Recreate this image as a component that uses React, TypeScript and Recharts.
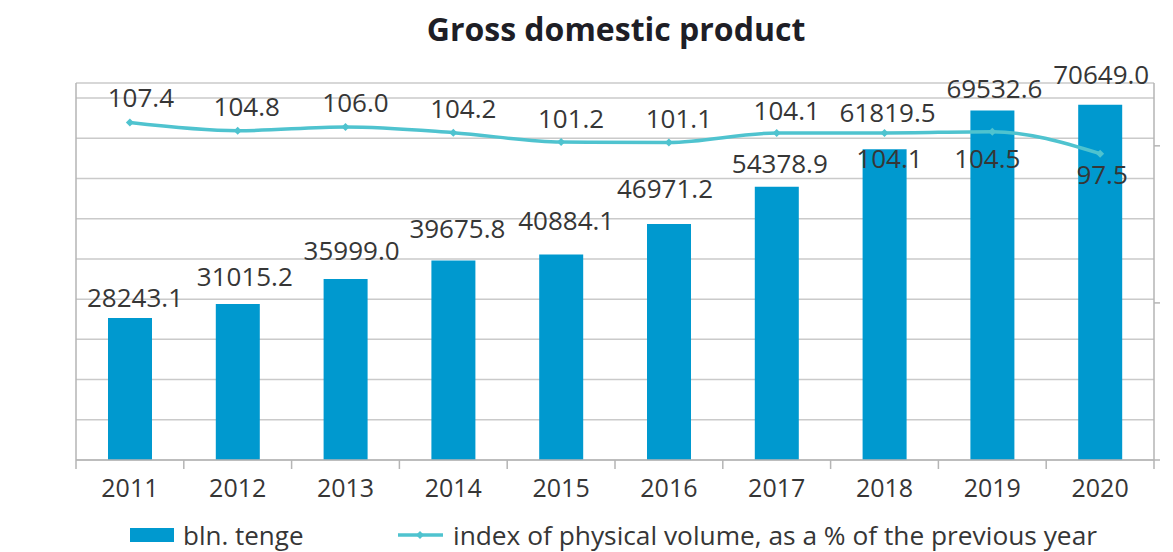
import React from 'react';
import { ComposedChart, Bar, Line, XAxis, YAxis, CartesianGrid, LabelList } from 'recharts';

const years = ['2011', '2012', '2013', '2014', '2015', '2016', '2017', '2018', '2019', '2020'];
const gdpBlnTenge = [28243.1, 31015.2, 35999.0, 39675.8, 40884.1, 46971.2, 54378.9, 61819.5, 69532.6, 70649.0];
const volumeIndex = [107.4, 104.8, 106.0, 104.2, 101.2, 101.1, 104.1, 104.1, 104.5, 97.5];
const gdpTicks = [0, 8000, 16000, 24000, 32000, 40000, 48000, 56000, 64000, 72000];
const indexTicks = [0, 50, 100];

// label nudges (layout only), as placed in the original
const barLabelDx = [5, 7, 6, 4, 5, -4, 3, 3, 2, 1];
const barLabelDy = [-21, -28, -29, -33, -34, -36, -24, -37, -22, -31];
const lineLabelDx = [11, 9, 10, 10, 10, 10, 10, 5, -5, 2];
const lineLabelDy = [-26, -25, -25, -25, -24, -24, -23, 25, 26, 20];

const rows = years.map((year, i) => ({ year, gdp: gdpBlnTenge[i], idx: volumeIndex[i] }));

const BAR_COLOR = '#0099cf';
const LINE_COLOR = '#4fc3cf';
const GRID = '#cacaca';
const AXIS = '#b5b5b5';
const TEXT = '#363636';
const FONT = "'Open Sans', sans-serif";

const PLOT_LEFT = 76;
const PLOT_RIGHT = 1154;
const BAND = (PLOT_RIGHT - PLOT_LEFT) / years.length;

const getIndex = (props: any, arr: number[]) => {
  if (typeof props.index === 'number') return props.index;
  return arr.indexOf(Number(props.value));
};

const BarLabel = (props: any) => {
  const vb = props.viewBox || props;
  const x = Number(vb.x ?? props.x);
  const y = Number(vb.y ?? props.y);
  const w = Number(vb.width ?? props.width ?? 0);
  const i = getIndex(props, gdpBlnTenge);
  return (
    <text
      x={x + w / 2 + (barLabelDx[i] || 0)}
      y={y + (barLabelDy[i] || -20)}
      textAnchor="middle"
      dominantBaseline="central"
      fontFamily={FONT}
      fontSize={26}
      fill={TEXT}
    >
      {Number(props.value).toFixed(1)}
    </text>
  );
};

const LineLabel = (props: any) => {
  const vb = props.viewBox || props;
  const x = Number(vb.x ?? props.x);
  const y = Number(vb.y ?? props.y);
  const i = getIndex(props, volumeIndex);
  return (
    <text
      x={x + (lineLabelDx[i] || 0)}
      y={y + (lineLabelDy[i] || -24)}
      textAnchor="middle"
      dominantBaseline="central"
      fontFamily={FONT}
      fontSize={26}
      fill={TEXT}
    >
      {Number(props.value).toFixed(1)}
    </text>
  );
};

const Diamond = (props: any) => {
  const { cx, cy, index } = props;
  if (cx == null || cy == null) return <g key={`d-${index}`} />;
  return (
    <path
      key={`d-${index}`}
      d={`M${cx},${cy - 4} L${cx + 4},${cy} L${cx},${cy + 4} L${cx - 4},${cy} Z`}
      fill={LINE_COLOR}
    />
  );
};

const EmptyTick = () => <g />;

const YearTick = (props: any) => {
  const { x, y, payload, index } = props;
  const last = index === years.length - 1;
  return (
    <g>
      <line x1={x - BAND / 2} y1={y} x2={x - BAND / 2} y2={y + 9} stroke={AXIS} strokeWidth={1.5} />
      {last && <line x1={x + BAND / 2} y1={y} x2={x + BAND / 2} y2={y + 9} stroke={AXIS} strokeWidth={1.5} />}
      <text x={x} y={y + 27} textAnchor="middle" dominantBaseline="central" fontFamily={FONT} fontSize={25} fill={TEXT}>
        {payload.value}
      </text>
    </g>
  );
};

export default function App() {
  return (
    <div style={{ position: 'absolute', left: 0, top: 0, width: 1173, height: 552, background: '#ffffff', fontFamily: FONT }}>
      <div
        style={{
          position: 'absolute',
          left: 616,
          top: 9,
          transform: 'translateX(-50%)',
          whiteSpace: 'nowrap',
          fontSize: 32,
          lineHeight: '40px',
          fontWeight: 700,
          color: '#1e1e26',
        }}
      >
        Gross domestic product
      </div>
      <ComposedChart width={1173} height={552} data={rows} margin={{ top: 83, right: 0, bottom: 0, left: 0 }}>
        <CartesianGrid yAxisId="gdp" vertical={false} stroke={GRID} strokeWidth={1.5} />
        <XAxis
          dataKey="year"
          height={92}
          interval={0}
          tickSize={0}
          tickMargin={0}
          tickLine={false}
          axisLine={{ stroke: AXIS, strokeWidth: 1.5 }}
          tick={<YearTick />}
        />
        <YAxis
          yAxisId="gdp"
          orientation="left"
          width={76}
          domain={[0, 75000]}
          ticks={gdpTicks}
          interval={0}
          allowDataOverflow
          tick={<EmptyTick />}
          tickLine={false}
          axisLine={{ stroke: AXIS, strokeWidth: 1.5 }}
        />
        <YAxis
          yAxisId="idx"
          orientation="right"
          width={19}
          domain={[0, 120]}
          ticks={indexTicks}
          interval={0}
          allowDataOverflow
          tick={<EmptyTick />}
          tickSize={6}
          tickLine={{ stroke: AXIS, strokeWidth: 1.5 }}
          axisLine={{ stroke: AXIS, strokeWidth: 1.5 }}
        />
        <Bar yAxisId="gdp" dataKey="gdp" fill={BAR_COLOR} barSize={44} isAnimationActive={false}>
          <LabelList dataKey="gdp" content={<BarLabel />} />
        </Bar>
        <Line
          yAxisId="idx"
          dataKey="idx"
          type="monotone"
          stroke={LINE_COLOR}
          strokeWidth={3.5}
          dot={<Diamond />}
          activeDot={false}
          isAnimationActive={false}
        >
          <LabelList dataKey="idx" content={<LineLabel />} />
        </Line>
      </ComposedChart>
      <div style={{ position: 'absolute', left: 130, top: 528, width: 44, height: 14, background: BAR_COLOR }} />
      <div style={{ position: 'absolute', left: 183, top: 517, fontSize: 26, lineHeight: '36px', color: TEXT, whiteSpace: 'nowrap' }}>
        bln. tenge
      </div>
      <svg style={{ position: 'absolute', left: 396, top: 528 }} width={50} height={14}>
        <line x1={2} y1={7} x2={47} y2={7} stroke={LINE_COLOR} strokeWidth={3.5} />
        <path d="M24,3 L28,7 L24,11 L20,7 Z" fill={LINE_COLOR} />
      </svg>
      <div style={{ position: 'absolute', left: 453, top: 517, fontSize: 26.3, lineHeight: '36px', color: TEXT, whiteSpace: 'nowrap' }}>
        index of physical volume, as a % of the previous year
      </div>
    </div>
  );
}
